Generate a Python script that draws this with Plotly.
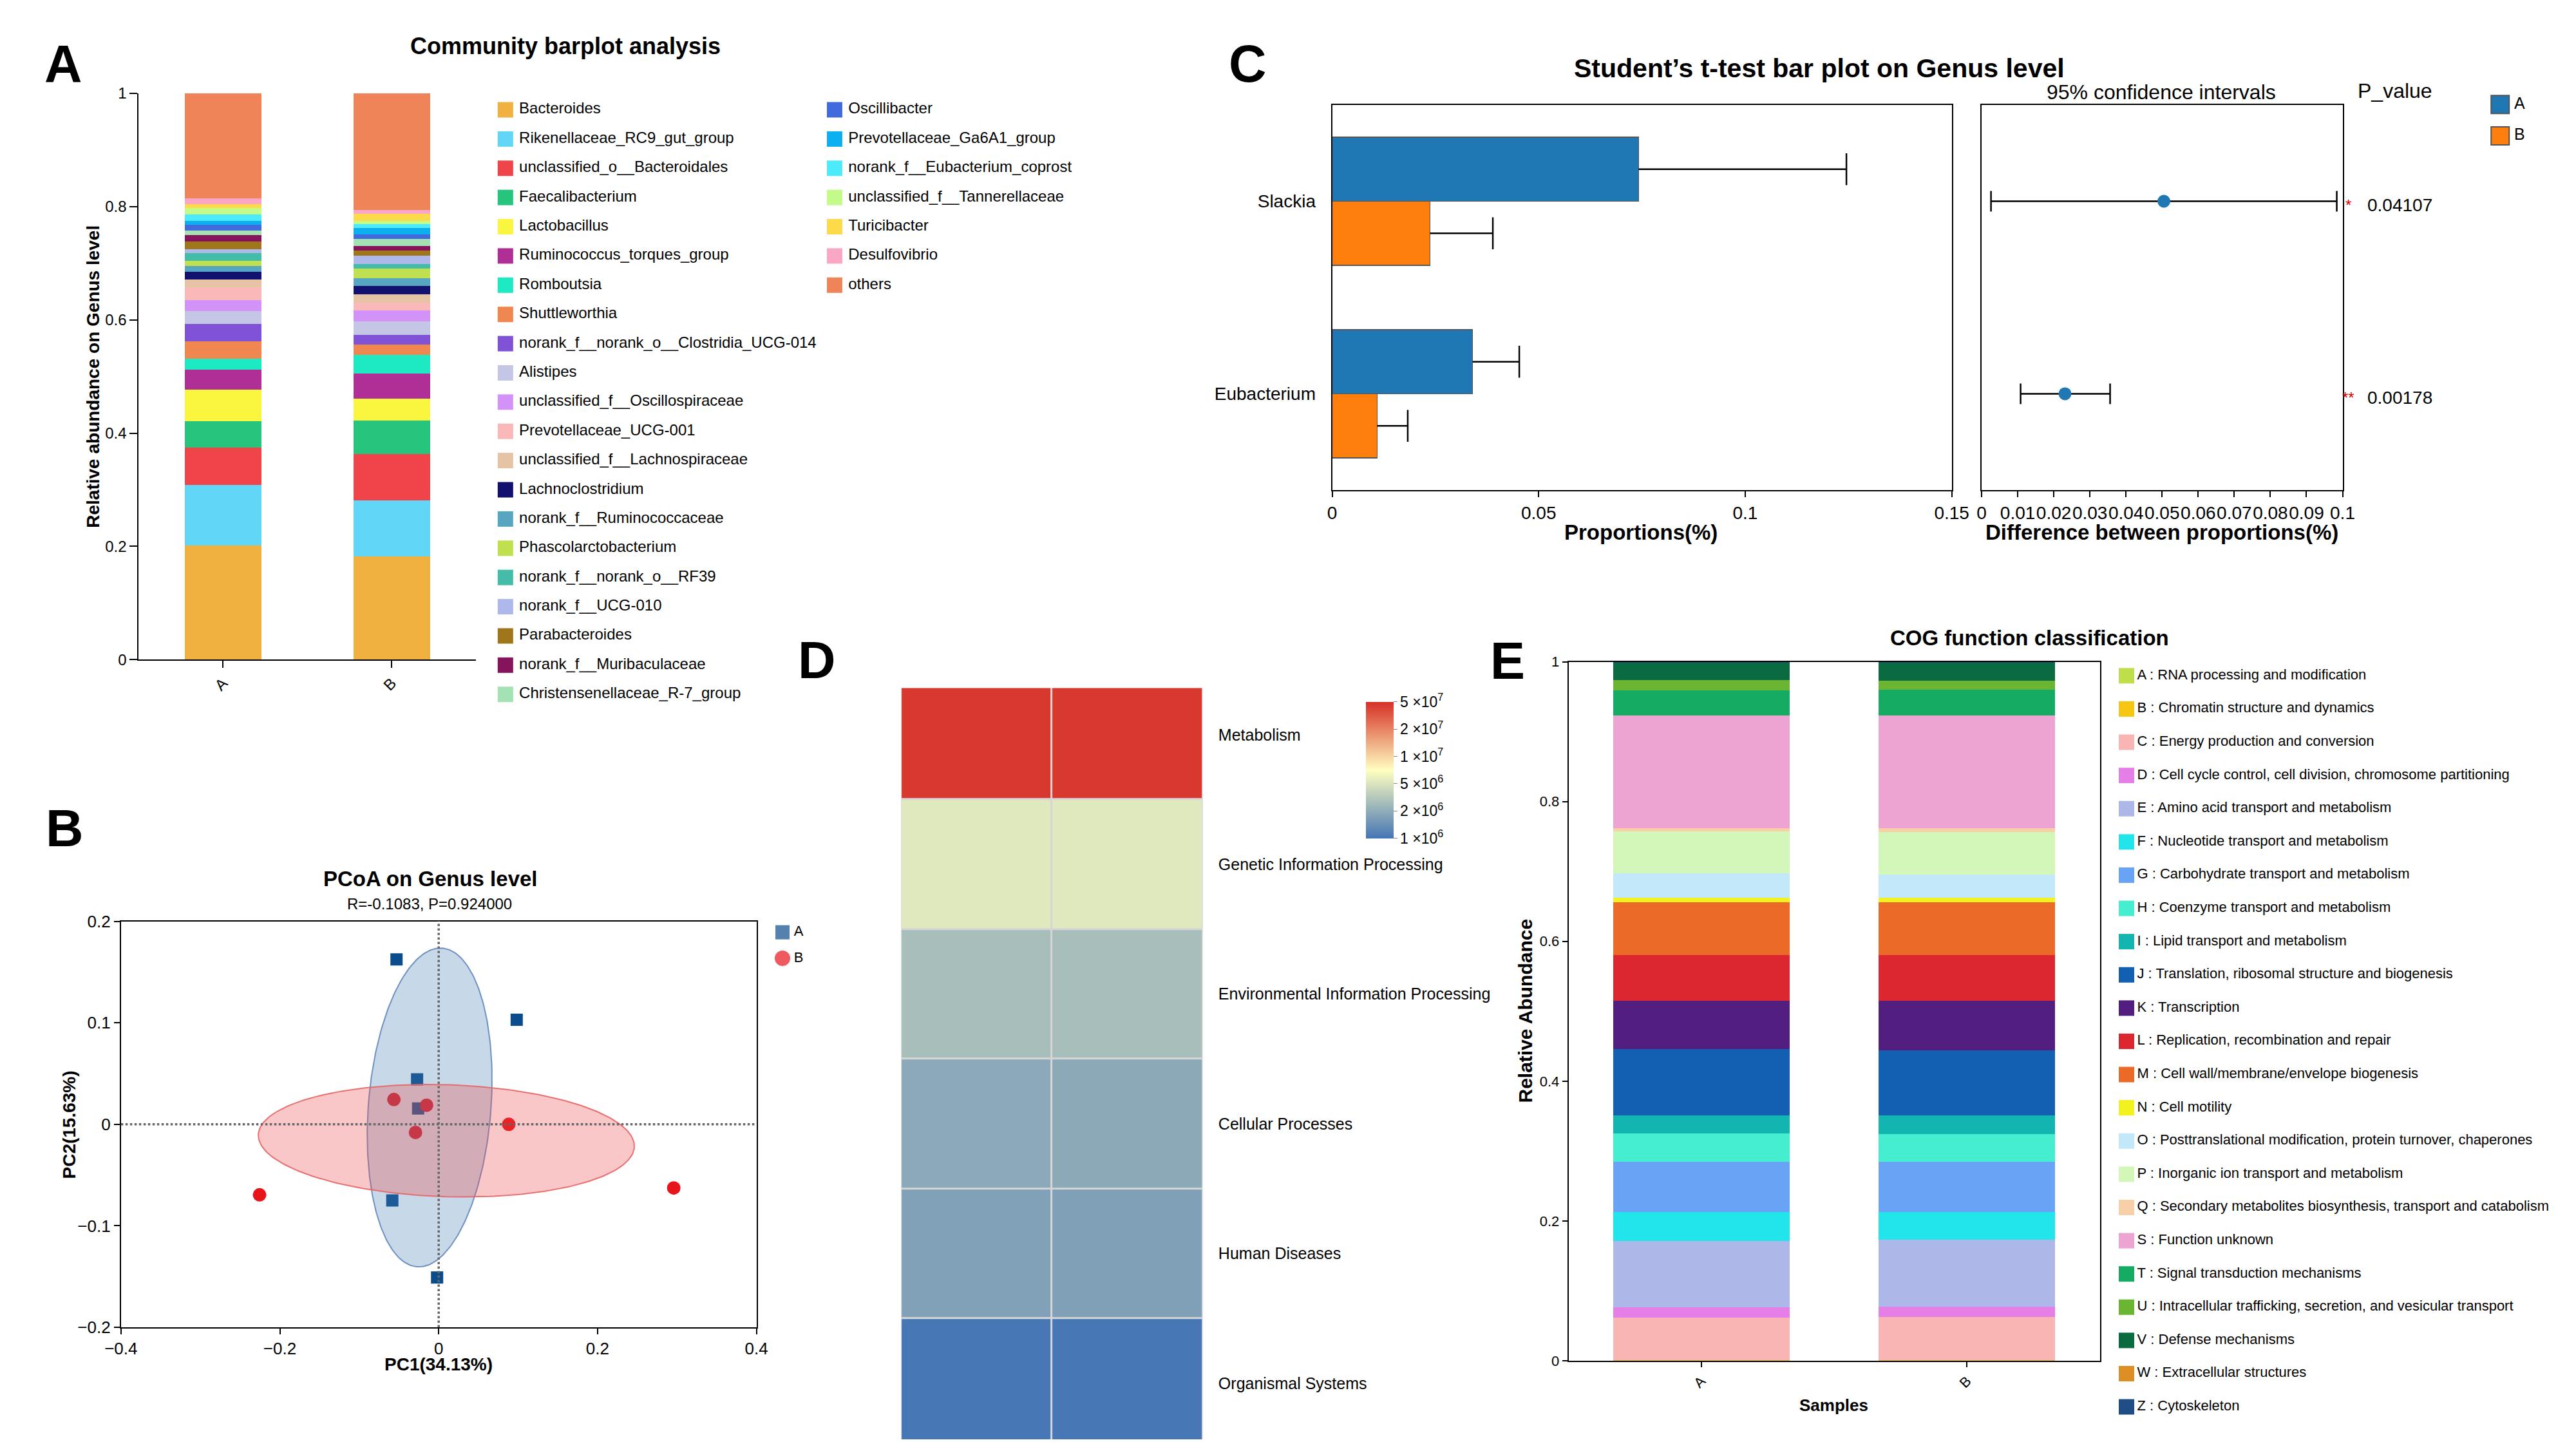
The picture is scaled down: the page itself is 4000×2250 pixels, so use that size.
import numpy as np
import plotly.graph_objects as go

W, H = 4000, 2250
FONT = "Liberation Sans, Arial, Helvetica, sans-serif"

# ======================= DATA =======================
samples = ["A", "B"]

# ---- Panel A: community barplot (genus level) ----
genus_labels = [
    "Bacteroides", "Rikenellaceae_RC9_gut_group", "unclassified_o__Bacteroidales",
    "Faecalibacterium", "Lactobacillus", "Ruminococcus_torques_group", "Romboutsia",
    "Shuttleworthia", "norank_f__norank_o__Clostridia_UCG-014", "Alistipes",
    "unclassified_f__Oscillospiraceae", "Prevotellaceae_UCG-001",
    "unclassified_f__Lachnospiraceae", "Lachnoclostridium", "norank_f__Ruminococcaceae",
    "Phascolarctobacterium", "norank_f__norank_o__RF39", "norank_f__UCG-010",
    "Parabacteroides", "norank_f__Muribaculaceae", "Christensenellaceae_R-7_group",
    "Oscillibacter", "Prevotellaceae_Ga6A1_group", "norank_f__Eubacterium_coprost",
    "unclassified_f__Tannerellaceae", "Turicibacter", "Desulfovibrio", "others",
]
genus_A = [0.2013, 0.1070, 0.0661, 0.0469, 0.0561, 0.0344, 0.0197, 0.0308, 0.0304, 0.0233,
           0.0194, 0.0221, 0.0142, 0.0138, 0.0101, 0.0082, 0.0142, 0.0071, 0.0131, 0.0116,
           0.0075, 0.0104, 0.0068, 0.0119, 0.0116, 0.0060, 0.0105, 0.1855]
genus_B = [0.1829, 0.0981, 0.0818, 0.0593, 0.0392, 0.0437, 0.0337, 0.0177, 0.0176, 0.0232,
           0.0199, 0.0131, 0.0153, 0.0142, 0.0143, 0.0171, 0.0076, 0.0152, 0.0083, 0.0085,
           0.0117, 0.0086, 0.0112, 0.0067, 0.0064, 0.0120, 0.0063, 0.2064]
genus_colors = [
    "#F0B141", "#62D6F7", "#F0444B", "#27C47D", "#FAF53E", "#B02F96", "#1DE9C2",
    "#F18750", "#8052D6", "#C5C5E6", "#D392F8", "#FAB8B8", "#E5C3A4", "#121170",
    "#57A5C0", "#C0E04F", "#45BCA8", "#AEB8EA", "#A0761A", "#85145C", "#A3E3B3",
    "#416BDD", "#0CB0EE", "#4DEBFA", "#C3FA8A", "#FDDA49", "#FBA6C4", "#F08459",
]
abund_ticks = [0, 0.2, 0.4, 0.6, 0.8, 1]
abund_ticktext = ["0", "0.2", "0.4", "0.6", "0.8", "1"]

# ---- Panel B: PCoA ----
pcoa_A_x = [-0.0531, 0.0982, -0.0272, -0.0259, -0.0584, -0.0020]
pcoa_A_y = [0.1625, 0.1030, 0.0443, 0.0156, -0.0750, -0.1509]
pcoa_B_x = [-0.0564, -0.0153, -0.0292, 0.0882, -0.2255, 0.2959]
pcoa_B_y = [0.0244, 0.0188, -0.0080, 0.0000, -0.0695, -0.0627]
pcoa_x_ticks = [-0.4, -0.2, 0, 0.2, 0.4]
pcoa_y_ticks = [-0.2, -0.1, 0, 0.1, 0.2]

# ---- Panel C: Student's t-test ----
ttest_genera = ["Slackia", "Eubacterium"]
ttest_mean_A = [0.0742, 0.0340]
ttest_err_A = [0.0503, 0.0113]
ttest_mean_B = [0.0237, 0.0109]
ttest_err_B = [0.0152, 0.0074]
diff_mean = [0.0505, 0.0231]
diff_low = [0.0026, 0.0108]
diff_high = [0.0984, 0.0356]
p_values = ["0.04107", "0.00178"]
p_stars = ["*", "**"]
prop_ticks = [0, 0.05, 0.1, 0.15]
prop_ticktext = ["0", "0.05", "0.1", "0.15"]
diff_ticks = [0, 0.01, 0.02, 0.03, 0.04, 0.05, 0.06, 0.07, 0.08, 0.09, 0.1]
diff_ticktext = ["0", "0.01", "0.02", "0.03", "0.04", "0.05", "0.06", "0.07", "0.08", "0.09", "0.1"]

# ---- Panel D: KEGG level-1 heatmap ----
pathways = ["Metabolism", "Genetic Information Processing", "Environmental Information Processing",
            "Cellular Processes", "Human Diseases", "Organismal Systems"]
kegg_A = [4.6e7, 5.3e6, 2.7e6, 1.92e6, 1.73e6, 1.02e6]
kegg_B = [4.6e7, 5.3e6, 2.7e6, 1.93e6, 1.72e6, 1.02e6]
cbar_vals = [1e6, 2e6, 5e6, 1e7, 2e7, 5e7]
cbar_text = ["1 ×10<sup>6</sup>", "2 ×10<sup>6</sup>", "5 ×10<sup>6</sup>",
             "1 ×10<sup>7</sup>", "2 ×10<sup>7</sup>", "5 ×10<sup>7</sup>"]

# ---- Panel E: COG function classification ----
cog_labels = [
    "A : RNA processing and modification", "B : Chromatin structure and dynamics",
    "C : Energy production and conversion",
    "D : Cell cycle control, cell division, chromosome partitioning",
    "E : Amino acid transport and metabolism", "F : Nucleotide transport and metabolism",
    "G : Carbohydrate transport and metabolism", "H : Coenzyme transport and metabolism",
    "I : Lipid transport and metabolism", "J : Translation, ribosomal structure and biogenesis",
    "K : Transcription", "L : Replication, recombination and repair",
    "M : Cell wall/membrane/envelope biogenesis", "N : Cell motility",
    "O : Posttranslational modification, protein turnover, chaperones",
    "P : Inorganic ion transport and metabolism",
    "Q : Secondary metabolites biosynthesis, transport and catabolism",
    "S : Function unknown", "T : Signal transduction mechanisms",
    "U : Intracellular trafficking, secretion, and vesicular transport",
    "V : Defense mechanisms", "W : Extracellular structures", "Z : Cytoskeleton",
]
cog_A = [0.0004, 0.0002, 0.0614, 0.0143, 0.0950, 0.0414, 0.0723, 0.0400, 0.0264, 0.0950,
         0.0686, 0.0656, 0.0754, 0.0060, 0.0354, 0.0595, 0.0053, 0.1610, 0.0362, 0.0143,
         0.0255, 0.0003, 0.0005]
cog_B = [0.0004, 0.0002, 0.0622, 0.0143, 0.0957, 0.0400, 0.0716, 0.0400, 0.0264, 0.0935,
         0.0708, 0.0656, 0.0754, 0.0060, 0.0339, 0.0603, 0.0053, 0.1618, 0.0362, 0.0136,
         0.0260, 0.0003, 0.0005]
cog_colors = [
    "#BEDF4A", "#F7C613", "#F9B4B4", "#E67EE8", "#ADB8E9", "#22E5EC", "#68A3F6",
    "#46EED0", "#13B5B1", "#1360B2", "#521E80", "#DC2630", "#EC6A27", "#F2F21E",
    "#C2E8F9", "#D3F7B8", "#F8D0A8", "#EEA4D3", "#15AB63", "#6CB533", "#0B6B40",
    "#DD8E25", "#1F4E86",
]

# ======================= HELPERS =======================
def dom_x(a, b):
    return [a / W, b / W]


def dom_y(top, bottom):
    return [1 - bottom / H, 1 - top / H]


fig = go.Figure()
axes = {}
annotations = []
shapes = []

BASE = dict(showgrid=False, zeroline=False, color="black", linecolor="black", tickcolor="black")


def ann(text, x, y, size, bold=False, angle=0, color="black", xanchor="center"):
    annotations.append(dict(
        text=f"<b>{text}</b>" if bold else text, x=x / W, y=1 - y / H,
        xref="paper", yref="paper", showarrow=False, textangle=angle, xanchor=xanchor,
        yanchor="middle", font=dict(size=size, color=color, family=FONT),
    ))


def add_legend(n_ax, labels, colors, symbols, sizes, x0, y0, step, n_rows, col_w, text_dx,
               font_size, width_px, line_color="rgba(0,0,0,0)", line_w=0):
    n = len(labels)
    rows = [i % n_rows for i in range(n)]
    xs = [(i // n_rows) * col_w for i in range(n)]
    axes[f"xaxis{n_ax}"] = dict(domain=dom_x(x0, x0 + width_px), range=[0, width_px],
                                visible=False, anchor=f"y{n_ax}", fixedrange=True)
    axes[f"yaxis{n_ax}"] = dict(domain=dom_y(y0 - step / 2, y0 + (n_rows - 0.5) * step),
                                range=[n_rows - 0.5, -0.5], visible=False, anchor=f"x{n_ax}",
                                fixedrange=True)
    fig.add_trace(go.Scatter(
        x=xs, y=rows, mode="markers", xaxis=f"x{n_ax}", yaxis=f"y{n_ax}",
        marker=dict(symbol=symbols, color=colors, size=sizes,
                    line=dict(color=line_color, width=line_w)),
        hoverinfo="skip", showlegend=False, cliponaxis=False))
    fig.add_trace(go.Scatter(
        x=[x + text_dx for x in xs], y=rows, mode="text", text=labels,
        textposition="middle right", textfont=dict(size=font_size, color="black", family=FONT),
        xaxis=f"x{n_ax}", yaxis=f"y{n_ax}", hoverinfo="skip", showlegend=False,
        cliponaxis=False))


# ======================= PANEL A =======================
for name, a, b, c in zip(genus_labels, genus_A, genus_B, genus_colors):
    fig.add_trace(go.Bar(x=samples, y=[a, b], name=name, marker=dict(color=c, line=dict(width=0)),
                         width=0.452, xaxis="x", yaxis="y", showlegend=False))
axes["xaxis"] = dict(BASE, domain=dom_x(192, 723), anchor="y", type="category", range=[-0.5, 1.5],
                     showline=True, linewidth=2, ticks="outside", ticklen=11, tickwidth=2,
                     tickangle=-45, tickfont=dict(size=24))
axes["yaxis"] = dict(BASE, domain=dom_y(131.7, 1023), anchor="x", range=[0, 1],
                     tickvals=abund_ticks, ticktext=abund_ticktext, showline=True, linewidth=2,
                     ticks="outside", ticklen=12, tickwidth=2, tickfont=dict(size=24))
add_legend(2, genus_labels, genus_colors, "square", 24, 769, 157.6, 46.0, 21, 518, 21.6, 24, 831)
ann("A", 73, 85, 81, bold=True)
ann("Community barplot analysis", 863, 57.5, 36, bold=True)
ann("Relative abundance on Genus level", 120, 577, 28, bold=True, angle=-90)

# ======================= PANEL B =======================
fig.add_trace(go.Scatter(x=pcoa_A_x, y=pcoa_A_y, mode="markers", xaxis="x3", yaxis="y3",
                         marker=dict(symbol="square", size=19, color="#0B4C8C"), showlegend=False))
fig.add_trace(go.Scatter(x=pcoa_B_x, y=pcoa_B_y, mode="markers", xaxis="x3", yaxis="y3",
                         marker=dict(symbol="circle", size=21, color="#E8141C"), showlegend=False))

ELLIPSE_K = 1.367


def conf_ellipse(xs, ys, k=ELLIPSE_K, n=240):
    xs, ys = np.asarray(xs), np.asarray(ys)
    vals, vecs = np.linalg.eigh(np.cov(xs, ys))
    t = np.linspace(0, 2 * np.pi, n)
    pts = vecs @ (np.sqrt(vals)[:, None] * np.vstack([np.cos(t), np.sin(t)])) * k
    return xs.mean() + pts[0], ys.mean() + pts[1]


ex, ey = conf_ellipse(pcoa_A_x, pcoa_A_y)
fig.add_trace(go.Scatter(x=ex, y=ey, mode="lines", fill="toself", fillcolor="rgba(70,125,180,0.30)",
                         line=dict(color="rgba(90,130,185,0.85)", width=2), xaxis="x3", yaxis="y3",
                         showlegend=False, hoverinfo="skip"))
ex, ey = conf_ellipse(pcoa_B_x, pcoa_B_y)
fig.add_trace(go.Scatter(x=ex, y=ey, mode="lines", fill="toself", fillcolor="rgba(235,70,70,0.30)",
                         line=dict(color="rgba(230,100,100,0.9)", width=2), xaxis="x3", yaxis="y3",
                         showlegend=False, hoverinfo="skip"))
axes["xaxis3"] = dict(BASE, domain=dom_x(164, 1164), anchor="y3", range=[-0.4, 0.4],
                      tickvals=pcoa_x_ticks, showline=True, mirror=True, linewidth=2,
                      ticks="outside", ticklen=9, tickwidth=2, tickfont=dict(size=26))
axes["yaxis3"] = dict(BASE, domain=dom_y(1434.7, 2073.7), anchor="x3", range=[-0.2, 0.2],
                      tickvals=pcoa_y_ticks, showline=True, mirror=True, linewidth=2,
                      ticks="outside", ticklen=9, tickwidth=2, tickfont=dict(size=26))
shapes.append(dict(type="line", xref="x3", yref="y3 domain", x0=0, x1=0, y0=0, y1=1,
                   line=dict(color="#666666", width=3.5, dash="dot")))
shapes.append(dict(type="line", xref="x3 domain", yref="y3", x0=0, x1=1, y0=0, y1=0,
                   line=dict(color="#666666", width=3.5, dash="dot")))
add_legend(4, samples, ["#0B4C8C", "#E8141C"], ["square", "circle"], [22, 24],
           1205, 1452, 41, 2, 0, 18, 22, 60)
ann("B", 75, 1288, 81, bold=True)
ann("PCoA on Genus level", 651, 1368, 33, bold=True)
ann("R=-0.1083, P=0.924000", 650, 1407, 24)
ann("PC1(34.13%)", 664, 2132, 28, bold=True)
ann("PC2(15.63%)", 83, 1755, 28, bold=True, angle=-90)

# ======================= PANEL C =======================
BAR_W = 0.333
CAP = 0.083
idx = list(range(len(ttest_genera)))
for grp, means, errs, col, sgn in [("A", ttest_mean_A, ttest_err_A, "#1F77B4", -1),
                                   ("B", ttest_mean_B, ttest_err_B, "#FF7F0E", 1)]:
    ys = [i + sgn * BAR_W / 2 for i in idx]
    fig.add_trace(go.Bar(x=means, y=ys, orientation="h", width=BAR_W, name=grp,
                         marker=dict(color=col, line=dict(color="#555555", width=1.5)),
                         xaxis="x5", yaxis="y5", showlegend=False))
    lx, ly = [], []
    for m, e, yv in zip(means, errs, ys):
        lx += [m, m + e, None, m + e, m + e, None]
        ly += [yv, yv, None, yv - CAP, yv + CAP, None]
    fig.add_trace(go.Scatter(x=lx, y=ly, mode="lines", line=dict(color="black", width=2.5),
                             xaxis="x5", yaxis="y5", showlegend=False, hoverinfo="skip"))

fig.add_trace(go.Scatter(
    x=diff_mean, y=idx, mode="markers", xaxis="x6", yaxis="y6", showlegend=False,
    marker=dict(color="#1F77B4", size=20),
    error_x=dict(type="data", symmetric=False,
                 array=[h - m for h, m in zip(diff_high, diff_mean)],
                 arrayminus=[m - l for m, l in zip(diff_mean, diff_low)],
                 color="black", thickness=2.5, width=16)))

C_TOP, C_BOT = 150, 756
axes["xaxis5"] = dict(BASE, domain=dom_x(2070, 3045), anchor="y5", range=[0, 0.15],
                      tickvals=prop_ticks, ticktext=prop_ticktext, showline=True, mirror=True,
                      linewidth=2, ticks="outside", ticklen=9, tickwidth=2, tickangle=0,
                      tickfont=dict(size=28))
axes["yaxis5"] = dict(BASE, domain=dom_y(C_TOP, C_BOT), anchor="x5", range=[1.5, -0.5],
                      tickvals=idx, ticktext=ttest_genera, showline=True, mirror=True, linewidth=2,
                      ticks="outside", ticklen=18, tickcolor="rgba(0,0,0,0)",
                      tickfont=dict(size=28))
axes["xaxis6"] = dict(BASE, domain=dom_x(3092, 3660), anchor="y6", range=[0, 0.1],
                      tickvals=diff_ticks, ticktext=diff_ticktext, showline=True, mirror=True,
                      linewidth=2, ticks="outside", ticklen=9, tickwidth=2, tickangle=0,
                      tickfont=dict(size=28))
axes["yaxis6"] = dict(BASE, domain=dom_y(C_TOP, C_BOT), anchor="x6", range=[1.5, -0.5],
                      showticklabels=False, showline=True, mirror=True, linewidth=2, ticks="")
add_legend(7, samples, ["#1F77B4", "#FF7F0E"], "square", 28, 3908, 149.3, 49.4, 2, 0, 22, 25, 60,
           line_color="#555555", line_w=2)
ann("C", 1937, 85, 81, bold=True)
ann("Student’s t-test bar plot on Genus level", 2837, 92, 41, bold=True)
ann("95% confidence intervals", 3375, 130, 32)
ann("P_value", 3743, 128, 32)
ann("Proportions(%)", 2556, 822, 33, bold=True)
ann("Difference between proportions(%)", 3376, 822, 33, bold=True)
for i, (pv, st) in enumerate(zip(p_values, p_stars)):
    annotations.append(dict(text=pv, x=3697 / W, y=i, xref="paper", yref="y6", showarrow=False,
                            xanchor="left", yanchor="middle", yshift=-6,
                            font=dict(size=28, color="black", family=FONT)))
    annotations.append(dict(text=st, x=3669 / W, y=i, xref="paper", yref="y6", showarrow=False,
                            xanchor="center", yanchor="middle", yshift=-6,
                            font=dict(size=24, color="#E00000", family=FONT)))

# ======================= PANEL D =======================
cbar_pos = np.linspace(0, 1, len(cbar_vals))


def to_pos(v):
    return float(np.interp(np.log10(v), np.log10(cbar_vals), cbar_pos))


z = [[to_pos(a), to_pos(b)] for a, b in zip(kegg_A, kegg_B)]
fig.add_trace(go.Heatmap(
    z=z, x=samples, y=pathways, xaxis="x8", yaxis="y8", zmin=0, zmax=1, xgap=3, ygap=3,
    colorscale=[[0, "#4575B4"], [0.5, "#FFFFBF"], [1, "#D73027"]],
    colorbar=dict(x=2123 / W, xanchor="left", y=1 - 1196.7 / H, yanchor="middle",
                  len=212, lenmode="pixels", thickness=43, thicknessmode="pixels",
                  xpad=0, ypad=0, outlinewidth=0, tickvals=list(cbar_pos), ticktext=cbar_text,
                  ticks="outside", ticklen=6, tickcolor="#888888",
                  tickfont=dict(size=23, color="black", family=FONT)),
    showscale=True, hoverinfo="skip"))
axes["xaxis8"] = dict(domain=dom_x(1391.5, 1866.6), anchor="y8", visible=False,
                      range=[-0.5, 1.5])
axes["yaxis8"] = dict(BASE, domain=[0, 1 - 1067.8 / H], anchor="x8", type="category",
                      range=[5.433, -0.359], side="right", ticks="outside", ticklen=18,
                      tickcolor="rgba(0,0,0,0)", showline=False, tickfont=dict(size=25))
shapes.append(dict(type="rect", xref="x8", yref="y8", x0=-0.5, x1=1.5, y0=-0.5, y1=5.5,
                   fillcolor="#D6D6D6", line=dict(width=0), layer="below"))
ann("D", 1259, 1024, 81, bold=True)

# ======================= PANEL E =======================
for name, a, b, c in zip(cog_labels, cog_A, cog_B, cog_colors):
    fig.add_trace(go.Bar(x=samples, y=[a, b], name=name, marker=dict(color=c, line=dict(width=0)),
                         width=0.664, xaxis="x9", yaxis="y9", showlegend=False))
axes["xaxis9"] = dict(BASE, domain=dom_x(2442, 3278), anchor="y9", type="category",
                      range=[-0.5, 1.5], showline=True, mirror=True, linewidth=2,
                      ticks="outside", ticklen=8, tickwidth=2, tickangle=-45,
                      tickfont=dict(size=22))
axes["yaxis9"] = dict(BASE, domain=dom_y(1026.3, 2126.4), anchor="x9", range=[0, 1],
                      tickvals=abund_ticks, ticktext=abund_ticktext, showline=True, mirror=True,
                      linewidth=2, ticks="outside", ticklen=8, tickwidth=2,
                      tickfont=dict(size=22))
add_legend(10, cog_labels, cog_colors, "square", 24, 3320, 1048.3, 52.3, 23, 0, 16.7, 22, 600)
ann("E", 2346, 1025, 81, bold=True)
ann("COG function classification", 3167, 989, 33, bold=True)
ann("Relative Abundance", 2374, 1576, 30, bold=True, angle=-90)
ann("Samples", 2859, 2196, 26, bold=True)

# ======================= LAYOUT =======================
fig.update_layout(
    width=W, height=H, margin=dict(l=0, r=0, t=0, b=0),
    paper_bgcolor="white", plot_bgcolor="white",
    font=dict(family=FONT, color="black"),
    barmode="stack", showlegend=False,
    annotations=annotations, shapes=shapes,
    **axes,
)
fig.write_html("out.html", config={"displayModeBar": False},
               post_script="document.body.style.margin='0px';document.body.style.overflow='hidden';")
